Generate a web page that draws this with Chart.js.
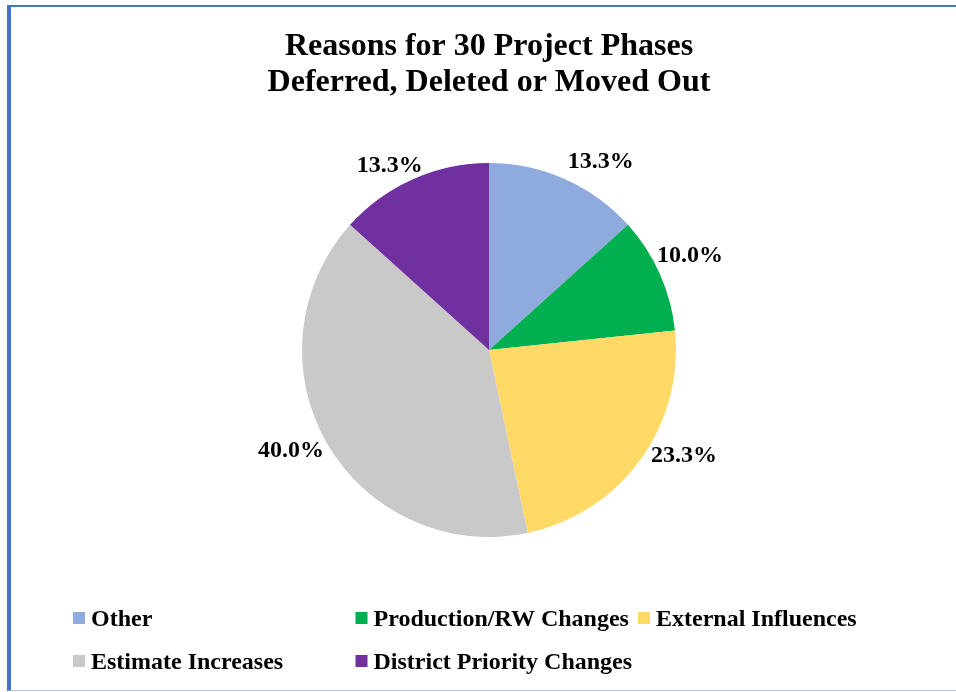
<!DOCTYPE html>
<html>
<head>
<meta charset="utf-8">
<script src="https://cdn.jsdelivr.net/npm/chart.js@4/dist/chart.umd.min.js"></script>
<style>
  html, body { margin: 0; padding: 0; background: #ffffff; }
  #wrap { position: relative; width: 956px; height: 692px; overflow: hidden; }
  #frame { position: absolute; left: 7px; top: 5px; width: 960px; height: 683px;
           border-left: 4px solid #4472C4; border-top: 2px solid #4472C4; border-bottom: 1px solid #B4C7E7; }
  canvas { position: absolute; left: 0; top: 0; }
</style>
</head>
<body>
<div id="wrap">
  <div id="frame"></div>
  <canvas id="c" width="956" height="692"></canvas>
</div>
<script>
// ---- data ----
const titleLines = ["Reasons for 30 Project Phases", "Deferred, Deleted or Moved Out"];
const categories = ["Other", "Production/RW Changes", "External Influences", "Estimate Increases", "District Priority Changes"];
const phaseCounts = [4, 3, 7, 12, 4];
const percentLabels = ["13.3%", "10.0%", "23.3%", "40.0%", "13.3%"];
const sliceColors = ["#8FAADC", "#00B050", "#FFD966", "#C9C9C9", "#7030A0"];

// ---- label placement (style) ----
const labelAngleNudgeDeg = [6.6, -1.3, -7.7, 3.2, -4.2];
const labelDistFactor = [1.175, 1.189, 1.184, 1.186, 1.122];

const serif = "'Liberation Serif', 'Times New Roman', serif";

const outsideLabels = {
  id: 'outsideLabels',
  afterDatasetsDraw(chart) {
    const ctx = chart.ctx;
    const meta = chart.getDatasetMeta(0);
    ctx.save();
    ctx.font = "bold 24px " + serif;
    ctx.fillStyle = "#000";
    ctx.textAlign = "center";
    ctx.textBaseline = "middle";
    meta.data.forEach((arc, i) => {
      const p = arc.getProps(['x', 'y', 'startAngle', 'endAngle', 'outerRadius'], true);
      const mid = (p.startAngle + p.endAngle) / 2 + labelAngleNudgeDeg[i] * Math.PI / 180;
      const d = p.outerRadius * labelDistFactor[i];
      ctx.fillText(percentLabels[i], p.x + d * Math.cos(mid), p.y + d * Math.sin(mid) + 1);
    });
    ctx.restore();
  }
};

const gridLegend = {
  id: 'gridLegend',
  afterDraw(chart) {
    const ctx = chart.ctx;
    ctx.save();
    ctx.font = "bold 24px " + serif;
    ctx.textAlign = "left";
    ctx.textBaseline = "alphabetic";
    const x0 = 73, colW = 282.5, y0 = 626, rowH = 43, perRow = 3;
    categories.forEach((name, i) => {
      const col = i % perRow, row = Math.floor(i / perRow);
      const x = x0 + col * colW, y = y0 + row * rowH;
      ctx.fillStyle = sliceColors[i];
      ctx.fillRect(x, y - 14, 12, 12);
      ctx.fillStyle = "#000";
      ctx.fillText(name, x + 18, y);
    });
    ctx.restore();
  }
};

new Chart(document.getElementById('c'), {
  type: 'pie',
  data: {
    labels: categories,
    datasets: [{
      data: phaseCounts,
      backgroundColor: sliceColors,
      borderWidth: 0,
      hoverOffset: 0
    }]
  },
  options: {
    responsive: false,
    animation: false,
    events: [],
    layout: { padding: { left: 122, right: 100, top: 0, bottom: 155 } },
    plugins: {
      legend: { display: false },
      tooltip: { enabled: false },
      title: {
        display: true,
        text: titleLines,
        color: "#000",
        font: { family: serif, size: 32, weight: 'bold', lineHeight: 1.125 },
        padding: { top: 29, bottom: 62 }
      }
    }
  },
  plugins: [outsideLabels, gridLegend]
});
</script>
</body>
</html>
